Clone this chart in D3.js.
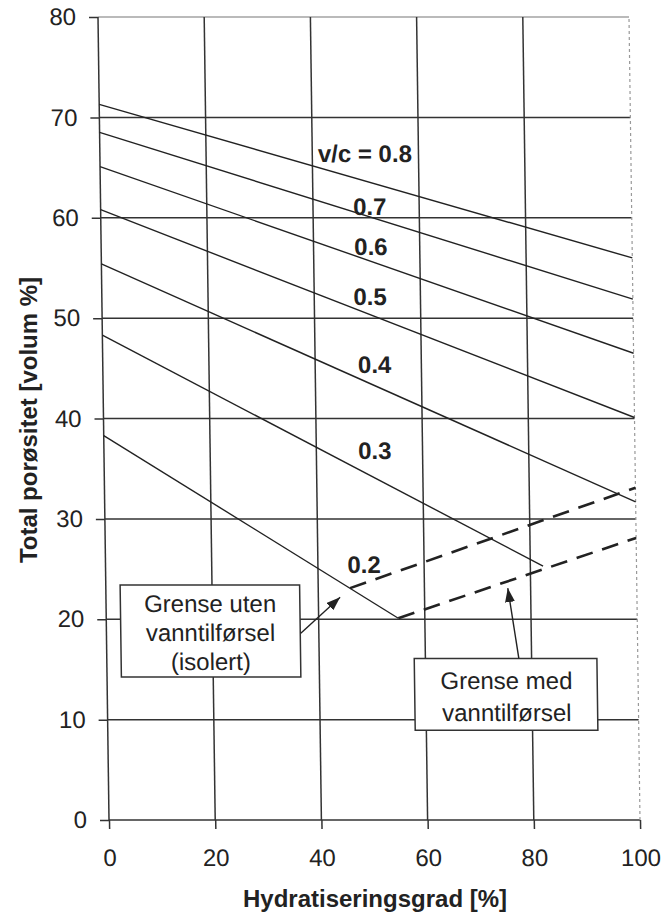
<!DOCTYPE html>
<html>
<head>
<meta charset="utf-8">
<script src="https://cdn.jsdelivr.net/npm/d3@7"></script>
<style>
  body { margin: 0; background: #fff; }
  svg { display: block; }
  text { font-family: "Liberation Sans", Arial, Helvetica, sans-serif; fill: #222; }
</style>
</head>
<body>
<svg id="chart" width="663" height="915"></svg>
<script>
// ---- data ----
const xTicks = [0, 20, 40, 60, 80, 100];
const yTicks = [0, 10, 20, 30, 40, 50, 60, 70, 80];
const wcLabels = ["v/c = 0.8", "0.7", "0.6", "0.5", "0.4", "0.3", "0.2"];
const lineStartX = [0, 0, 0, 0, 0, 0, 0];
const lineStartY = [71.3, 68.5, 65.1, 60.8, 55.4, 48.3, 38.3];
const lineEndX = [100, 100, 100, 100, 100, 82.4, 55.0];
const lineEndY = [56.0, 51.9, 46.5, 40.1, 31.7, 25.3, 20.1];
const isoBoundX = [46.0, 100];
const isoBoundY = [23.1, 33.1];
const wetBoundX = [55.0, 100];
const wetBoundY = [20.1, 28.1];
const xTitle = "Hydratiseringsgrad [%]";
const yTitle = "Total porøsitet [volum %]";
const box1Lines = ["Grense uten", "vanntilførsel", "(isolert)"];
const box2Lines = ["Grense med", "vanntilførsel"];

// ---- annotation placement (data units) ----
const labelPos = [[49.9, 65.6], [50.7, 60.3], [50.8, 56.3], [50.5, 51.3], [51.2, 44.5], [51.0, 36.0], [48.7, 24.6]];
const box1 = {x0: 2.7, x1: 36.5, y0: 23.4, y1: 14.25, cx: 19.6, baselines: [20.75, 17.85, 14.95]};
const box2 = {x0: 57.9, x1: 92.3, y0: 16.1, y1: 8.95, cx: 75.2, baselines: [13.05, 9.87]};
const arrow1 = [[36.6, 18.6], [44.1, 22.2]];
const arrow2 = [[77.6, 16.1], [75.7, 23.1]];

// ---- drawing ----
const svg = d3.select("#chart");
const x = d3.scaleLinear().domain([0, 100]).range([109, 640]);
const y = d3.scaleLinear().domain([0, 80]).range([820, 17]);
const ink = "#222";

const defs = svg.append("defs");
defs.append("marker")
  .attr("id", "ah").attr("viewBox", "0 0 14 10").attr("refX", 14).attr("refY", 5)
  .attr("markerWidth", 14).attr("markerHeight", 10).attr("markerUnits", "userSpaceOnUse")
  .attr("orient", "auto")
  .append("path").attr("d", "M0,0 L14,5 L0,10 Z").attr("fill", ink);

// scanned figure is slightly sheared: top edge shifted left
const g = svg.append("g").attr("transform", "translate(0,820) skewX(0.785) translate(0,-820)");

// grid
g.append("g").selectAll("line").data(yTicks).join("line")
  .attr("x1", x(0)).attr("x2", x(100))
  .attr("y1", d => y(d)).attr("y2", d => y(d))
  .attr("stroke", d => d === 80 ? "#777" : "#333")
  .attr("stroke-width", d => d === 80 ? 1.2 : 1.5);
g.append("g").selectAll("line").data(xTicks).join("line")
  .attr("y1", y(0)).attr("y2", y(80))
  .attr("x1", d => x(d)).attr("x2", d => x(d))
  .attr("stroke", d => d === 100 ? "#999" : "#333")
  .attr("stroke-width", d => d === 100 ? 1.2 : 1.5)
  .attr("stroke-dasharray", d => d === 100 ? "3,3" : null);

// axes
const yAxis = g.append("g").attr("transform", `translate(${x(0)},0)`)
  .call(d3.axisLeft(y).tickValues(yTicks).tickSize(9).tickPadding(13).tickFormat(d3.format("d")));
const xAxis = g.append("g").attr("transform", `translate(0,${y(0)})`)
  .call(d3.axisBottom(x).tickValues(xTicks).tickSize(9).tickPadding(20).tickFormat(d3.format("d")));
[yAxis, xAxis].forEach(a => {
  a.select(".domain").remove();
  a.selectAll(".tick line").attr("stroke", "#333").attr("stroke-width", 1.5);
  a.selectAll(".tick text").attr("font-size", 24).attr("fill", ink)
    .style("font-family", '"Liberation Sans", Arial, sans-serif');
});
xAxis.selectAll(".tick").filter(d => d === 100).select("line").attr("stroke", "#333");

// v/c lines
const lineGen = d3.line().x(d => x(d[0])).y(d => y(d[1]));
const wcLines = wcLabels.map((l, i) => [[lineStartX[i], lineStartY[i]], [lineEndX[i], lineEndY[i]]]);
g.append("g").selectAll("path").data(wcLines).join("path")
  .attr("d", lineGen).attr("fill", "none").attr("stroke", ink).attr("stroke-width", 1.4);

// boundary dashed lines
const bounds = [isoBoundX.map((v, i) => [v, isoBoundY[i]]), wetBoundX.map((v, i) => [v, wetBoundY[i]])];
g.append("g").selectAll("path").data(bounds).join("path")
  .attr("d", lineGen).attr("fill", "none").attr("stroke", ink).attr("stroke-width", 2.6)
  .attr("stroke-dasharray", "17,10");

// labels
g.append("g").selectAll("text").data(wcLabels).join("text")
  .attr("x", (d, i) => x(labelPos[i][0])).attr("y", (d, i) => y(labelPos[i][1]))
  .attr("text-anchor", "middle").attr("font-size", 24).attr("font-weight", "bold")
  .text(d => d);

// boxes
function drawBox(b, lines) {
  g.append("rect").attr("x", x(b.x0)).attr("y", y(b.y0))
    .attr("width", x(b.x1) - x(b.x0)).attr("height", y(b.y1) - y(b.y0))
    .attr("fill", "#fff").attr("stroke", "#333").attr("stroke-width", 1.5);
  g.append("g").selectAll("text").data(lines).join("text")
    .attr("x", x(b.cx)).attr("y", (d, i) => y(b.baselines[i]))
    .attr("text-anchor", "middle").attr("font-size", 24).text(d => d);
}
drawBox(box1, box1Lines);
drawBox(box2, box2Lines);

// arrows
[arrow1, arrow2].forEach(a => {
  g.append("line")
    .attr("x1", x(a[0][0])).attr("y1", y(a[0][1]))
    .attr("x2", x(a[1][0])).attr("y2", y(a[1][1]))
    .attr("stroke", ink).attr("stroke-width", 1.4).attr("marker-end", "url(#ah)");
});

// axis titles
svg.append("text").attr("x", 375).attr("y", 907).attr("text-anchor", "middle")
  .attr("font-size", 24).attr("font-weight", "bold").text(xTitle);
svg.append("text").attr("transform", "translate(37,420) rotate(-90)").attr("text-anchor", "middle")
  .attr("font-size", 24).attr("font-weight", "bold").text(yTitle);
</script>
</body>
</html>
